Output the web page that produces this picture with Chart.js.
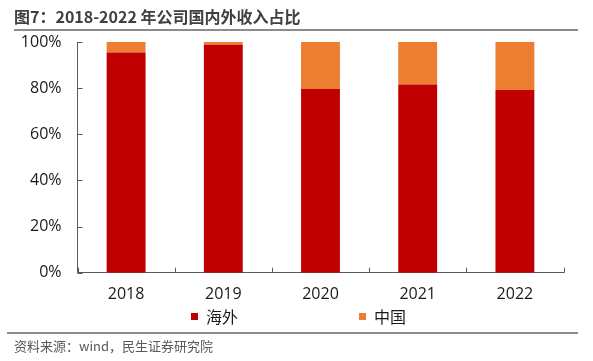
<!DOCTYPE html>
<html>
<head>
<meta charset="utf-8">
<script src="https://cdn.jsdelivr.net/npm/chart.js@4.4.0/dist/chart.umd.min.js"></script>
<style>
html,body{margin:0;padding:0;background:#fff;}
#wrap{width:593px;height:361px;position:relative;}
</style>
</head>
<body>
<div id="wrap"><canvas id="c" width="593" height="361"></canvas></div>
<script>
const titleText = "图7：2018-2022 年公司国内外收入占比";
const sourceText = "资料来源：wind，民生证券研究院";
const categories = ["2018", "2019", "2020", "2021", "2022"];
const overseas = [95.5, 98.8, 79.6, 81.6, 79.2];
const domestic = [4.5, 1.2, 20.4, 18.4, 20.8];
const yTicks = [0, 20, 40, 60, 80, 100];
const seriesNames = ["海外", "中国"];
const seriesColors = ["#C00000", "#ED7D31"];

const FONT = "'Open Sans','Noto Sans CJK SC',sans-serif";
const CJK = "'Noto Sans CJK SC','Open Sans',sans-serif";

const decor = {
  id: 'decor',
  afterDraw(chart) {
    const ctx = chart.ctx;
    const xs = chart.scales.x, ys = chart.scales.y;
    const area = chart.chartArea;
    ctx.save();
    // title
    ctx.fillStyle = '#404040';
    ctx.font = "bold 16px " + CJK;
    ctx.textBaseline = 'middle';
    ctx.textAlign = 'left';
    ctx.fillText(titleText, 14, 17);
    // title rule
    ctx.strokeStyle = '#8c8c8c';
    ctx.lineWidth = 2;
    ctx.beginPath(); ctx.moveTo(14, 30); ctx.lineTo(578, 30); ctx.stroke();
    // bottom rule
    ctx.beginPath(); ctx.moveTo(7, 333); ctx.lineTo(578, 333); ctx.stroke();
    // source
    ctx.fillStyle = '#595959';
    ctx.font = "13px " + CJK;
    ctx.fillText(sourceText, 14, 346);
    // inward ticks on y axis
    ctx.strokeStyle = '#595959';
    ctx.lineWidth = 1;
    yTicks.forEach(v => {
      const y = Math.round(ys.getPixelForValue(v)) + 0.5;
      ctx.beginPath(); ctx.moveTo(area.left, y); ctx.lineTo(area.left + 5, y); ctx.stroke();
    });
    // inward ticks on x axis at category boundaries
    for (let i = 0; i <= categories.length; i++) {
      const x = Math.round(xs.getPixelForValue(i - 0.5)) + 0.5;
      ctx.beginPath(); ctx.moveTo(x, area.bottom); ctx.lineTo(x, area.bottom - 5); ctx.stroke();
    }
    // legend
    const legendX = [191, 359];
    const legendY = 317;
    ctx.font = "16px " + CJK;
    ctx.textBaseline = 'middle';
    chart.data.datasets.forEach((ds, i) => {
      ctx.fillStyle = ds.backgroundColor;
      ctx.fillRect(legendX[i], legendY - 4, 7, 7);
      ctx.fillStyle = '#1a1a1a';
      ctx.fillText(ds.label, legendX[i] + 15, legendY);
    });
    ctx.restore();
  }
};

new Chart(document.getElementById('c'), {
  type: 'bar',
  data: {
    labels: categories,
    datasets: [
      { label: seriesNames[0], data: overseas, backgroundColor: seriesColors[0], borderWidth: 0, barPercentage: 0.4, categoryPercentage: 1 },
      { label: seriesNames[1], data: domestic, backgroundColor: seriesColors[1], borderWidth: 0, barPercentage: 0.4, categoryPercentage: 1 }
    ]
  },
  options: {
    responsive: false,
    animation: false,
    devicePixelRatio: 1,
    layout: { padding: { top: 42, left: 0, right: 29.5, bottom: 52.3 } },
    plugins: { legend: { display: false }, title: { display: false }, tooltip: { enabled: false } },
    scales: {
      x: {
        stacked: true,
        grid: { display: false, drawTicks: false },
        border: { display: true, color: '#595959', width: 1 },
        ticks: { color: '#1a1a1a', font: { size: 16, family: FONT }, padding: 12 },
        afterFit(s) { s.height = 36; }
      },
      y: {
        stacked: true,
        min: 0, max: 100,
        afterBuildTicks(s) { s.ticks = yTicks.map(v => ({ value: v })); },
        grid: { display: false, drawTicks: false },
        border: { display: true, color: '#595959', width: 1 },
        ticks: { color: '#1a1a1a', font: { size: 16, family: FONT }, padding: 16, callback: v => v + '%' },
        afterFit(s) { s.width = 77.5; }
      }
    }
  },
  plugins: [decor]
});
</script>
</body>
</html>
